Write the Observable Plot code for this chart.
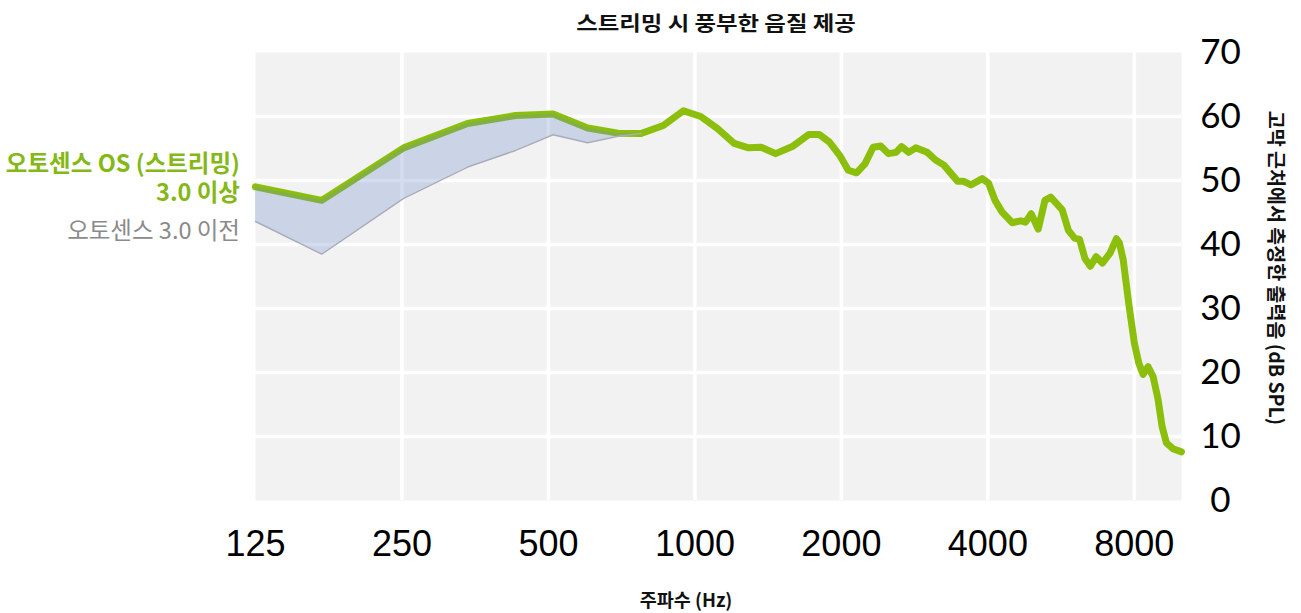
<!DOCTYPE html>
<html>
<head>
<meta charset="utf-8">
<script src="https://cdn.jsdelivr.net/npm/d3@7"></script>
<script src="https://cdn.jsdelivr.net/npm/@observablehq/plot@0.6"></script>
<style>
  html, body { margin: 0; padding: 0; background: #fff; }
  #wrap { position: relative; width: 1301px; height: 613px; overflow: hidden; }
  .lbl { position: absolute; white-space: nowrap; line-height: 1; font-family: "Noto Sans CJK KR", "Noto Sans", sans-serif; }
</style>
</head>
<body>
<div id="wrap">
  <div class="lbl" id="title" style="left:716px; top:13px; font-size:20px; font-weight:700; color:#111; transform:translateX(-50%) scaleX(1.17);">스트리밍 시 풍부한 음질 제공</div>
  <div class="lbl" id="newLbl1" style="right:1061px; top:151px; font-size:23.5px; font-weight:700; color:#84b816; text-align:right;">오토센스 OS (스트리밍)</div>
  <div class="lbl" id="newLbl2" style="right:1061px; top:180px; font-size:23.5px; font-weight:700; color:#84b816; text-align:right;">3.0 이상</div>
  <div class="lbl" id="oldLbl" style="right:1061px; top:218px; font-size:23.5px; font-weight:400; color:#8a8a8a; text-align:right;">오토센스 3.0 이전</div>
  <div class="lbl" id="xLbl" style="left:686px; top:590px; font-size:18.5px; font-weight:700; color:#111; transform:translateX(-50%);">주파수 (Hz)</div>
  <div class="lbl" id="yLbl" style="left:1277px; top:268px; font-size:19.5px; font-weight:700; color:#111; transform:translate(-50%,-50%) rotate(90deg);">고막 근처에서 측정한 출력음 (dB SPL)</div>
</div>
<script>
// ---- data ----
const xTicks = [125, 250, 500, 1000, 2000, 4000, 8000];
const yTicks = [0, 10, 20, 30, 40, 50, 60, 70];
const gridX = [250, 500, 1000, 2000, 4000, 8000];
const gridY = [10, 20, 30, 40, 50, 60];

// low-frequency region where both series are shown (Hz)
const lowFreq = [125, 171, 252, 341, 428, 511, 602, 695, 775];
const newLow  = [49.0, 46.9, 55.1, 58.9, 60.15, 60.4, 58.2, 57.4, 57.35];
const oldLow  = [43.6, 38.5, 47.2, 52.1, 54.7, 57.15, 55.9, 56.9, 57.35];

// remainder of the new (OS 3.0+) response
const highFreq = [861, 947, 1028, 1113, 1204, 1289, 1368, 1465, 1585, 1715,
  1800, 1890, 1985, 2066, 2149, 2236, 2324, 2409, 2499, 2590,
  2658, 2749, 2843, 3002, 3123, 3249, 3465, 3561, 3691, 3894,
  4011, 4138, 4275, 4490, 4671, 4780, 4910, 5076, 5240, 5385,
  5688, 5857, 6030, 6174, 6333, 6497, 6677, 6877, 7125, 7350,
  7450, 7590, 7790, 8000, 8170, 8340, 8540, 8740, 8950, 9120,
  9310, 9600, 10000];
const newHigh = [58.6, 60.9, 60.0, 58.1, 55.8, 55.1, 55.2, 54.2, 55.3, 57.2,
  57.2, 56.0, 53.9, 51.6, 51.2, 52.6, 55.2, 55.4, 54.2, 54.4,
  55.3, 54.4, 55.1, 54.4, 53.2, 52.4, 49.9, 49.9, 49.3, 50.3,
  49.6, 46.9, 45.1, 43.4, 43.7, 43.5, 44.8, 42.4, 46.9, 47.4,
  45.4, 42.2, 41.0, 40.8, 37.8, 36.6, 38.1, 37.1, 38.6, 40.9,
  40.3, 37.6, 30.8, 24.6, 21.5, 19.7, 20.9, 19.4, 15.8, 11.6,
  9.0, 8.1, 7.6];

const lowData = lowFreq.map((f, i) => ({f, nw: newLow[i], old: oldLow[i]}));
const newData = [
  ...lowFreq.map((f, i) => ({f, v: newLow[i]})),
  ...highFreq.map((f, i) => ({f, v: newHigh[i]}))
];

const chart = Plot.plot({
  width: 1301,
  height: 613,
  marginLeft: 255,
  marginRight: 120,
  marginTop: 52,
  marginBottom: 113,
  style: {background: "transparent", color: "#000", overflow: "visible"},
  x: {type: "log", domain: [125, 10000], axis: null},
  y: {domain: [0, 70], axis: null},
  marks: [
    Plot.frame({fill: "#f2f2f2", stroke: null}),
    Plot.ruleX(gridX, {stroke: "#fff", strokeWidth: 3.5}),
    Plot.ruleY(gridY, {stroke: "#fff", strokeWidth: 3.5}),
    Plot.line(newData, {x: "f", y: "v", stroke: "#8cbf0c", strokeWidth: 7, strokeLinejoin: "round", strokeLinecap: "round"}),
    Plot.areaY(lowData, {x: "f", y1: "old", y2: "nw", fill: "#6f8fc9", fillOpacity: 0.3}),
    Plot.line(lowData, {x: "f", y: "old", stroke: "#a9acb9", strokeWidth: 1.5}),
    Plot.text(xTicks, {x: d => d, frameAnchor: "bottom", dy: 44, text: d => String(d), fontSize: 36, fontFamily: "Liberation Sans", fill: "#000", lineAnchor: "middle"}),
    Plot.text(yTicks, {y: d => d, frameAnchor: "right", dx: 39, text: d => String(d), fontSize: 35, fontFamily: "Lato", fill: "#000", textAnchor: "middle"})
  ]
});
chart.style.position = "absolute";
chart.style.left = "0px";
chart.style.top = "0px";
const wrap = document.getElementById("wrap");
wrap.insertBefore(chart, wrap.firstChild);
</script>
</body>
</html>
